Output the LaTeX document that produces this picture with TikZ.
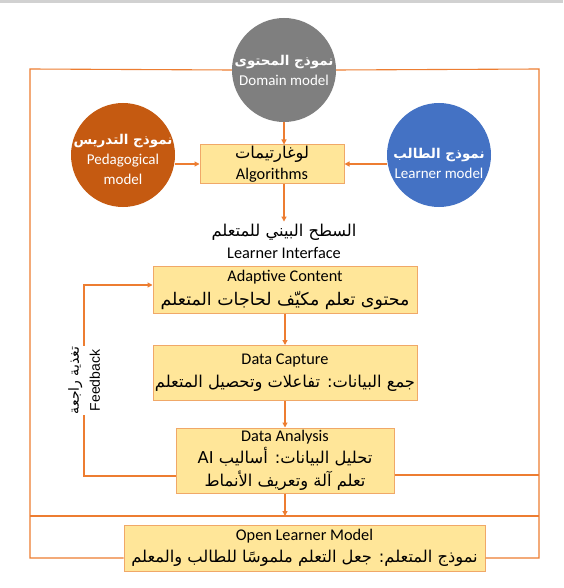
\documentclass[tikz,border=0pt]{standalone}
\usepackage{fontspec}
\setmainfont{Carlito}
\newfontfamily\arabicfont[Script=Arabic]{DejaVu Sans}
\newfontfamily\fbfont{Liberation Sans}
\TeXXeTstate=1
\usetikzlibrary{arrows.meta,positioning,calc}
\definecolor{linkorange}{HTML}{ED7D31}
\definecolor{boxfill}{HTML}{FFE699}
\definecolor{boxedge}{HTML}{F0A868}
\definecolor{domaingray}{HTML}{7F7F7F}
\definecolor{pedagbrown}{HTML}{C55A11}
\definecolor{learnerblue}{HTML}{4472C4}
\newcommand{\artext}[1]{{\arabicfont\beginR #1\endR}}
\newcommand{\capar}[1]{{\fontsize{13.5}{20}\selectfont\bfseries\artext{#1}}}

\begin{document}
\begin{tikzpicture}[x=1pt, y=-1pt,
    model/.style={circle, minimum size=104pt, inner sep=0pt},
    modelcap/.style={text=white, align=center, inner sep=0pt, font=\fontsize{15}{20}\selectfont},
    stage/.style={rectangle, fill=boxfill, draw=boxedge, line width=1pt, inner sep=0pt,
      align=center, font=\fontsize{16.3}{22}\selectfont},
    link/.style={draw=linkorange, line width=1.1pt},
    flow/.style={link, -{Triangle[length=5pt, width=5pt]}},
    fbnote/.style={rotate=90, fill=white, align=center, inner sep=1pt,
      font=\fontsize{14}{21}\selectfont}]
  \useasboundingbox (0,0) rectangle (563,588);
  \fill[white] (0,0) rectangle (563,588);
  \fill[black!18] (0,0) rectangle (563,3);

  % models around the algorithms
  \node[model, fill=domaingray]  (domain)  at (284,70)  {};
  \node[model, fill=pedagbrown]  (pedag)   at (123,155) {};
  \node[model, fill=learnerblue] (learner) at (439,155) {};
  \node[modelcap] (domaincap)  at (284,70)  {\capar{نموذج المحتوى}\\Domain model};
  \node[modelcap] (pedagcap)   at (123,159) {\capar{نموذج التدريس}\\Pedagogical\\model};
  \node[modelcap] (learnercap) at (439,163) {\capar{نموذج الطالب}\\Learner model};
  \node[stage, minimum width=144pt, minimum height=38pt] (algo) at (272,164)
    {\artext{لوغارتيمات}\\[-1pt]Algorithms};
  \node[align=center, inner sep=2pt, font=\fontsize{16.3}{22}\selectfont] (iface) at (284,241)
    {\artext{السطح البيني للمتعلم}\\Learner Interface};

  % learner loop
  \node[stage, minimum width=264pt, minimum height=47pt] (adapt)    at (285,289.5)
    {Adaptive Content\\[2pt]{\fontsize{17.4}{22}\selectfont\artext{محتوى تعلم مكيّف لحاجات المتعلم}}};
  \node[stage, minimum width=264pt, minimum height=55pt] (capture)  at (285,373)
    {Data Capture\\[1pt]\artext{جمع البيانات: تفاعلات وتحصيل المتعلم}};
  \node[stage, minimum width=218pt, minimum height=65pt] (analysis) at (285,460.5)
    {Data Analysis\\\artext{تحليل البيانات: أساليب \beginL AI\endL}\\[1pt]\artext{تعلم آلة وتعريف الأنماط}};
  \node[stage, minimum width=361pt, minimum height=46pt] (olm)      at (304.5,548)
    {Open Learner Model\\\artext{نموذج المتعلم: جعل التعلم ملموسًا للطالب والمعلم}};

  \coordinate (ftl) at (30,69);
  \coordinate (ftr) at (539,69);
  \coordinate (fbl) at (30,558);
  \coordinate (fbr) at (539,558);
  \coordinate (xl)  at (30,516);
  \coordinate (xr)  at (539,516);
  \coordinate (ar)  at (539,475);
  \coordinate (fbt) at (84,285);
  \coordinate (fbb) at (84,476);

  \draw[flow] (domain.south) -- (domain.south |- algo.north);
  \draw[flow] (pedag.east |- algo.west) -- (algo.west);
  \draw[flow] (learner.west |- algo.east) -- (algo.east);
  \draw[flow] (algo.south -| domain.south) -- (iface.north);
  \draw[flow] (adapt.south) -- (capture.north);
  \draw[flow] (capture.south) -- (analysis.north);
  \draw[flow] (analysis.south) -- (analysis.south |- xl);

  % outer frame
  \draw[link] (domain.west) -- (ftl) -- (fbl) -- (fbl -| olm.west);
  \draw[link] (domain.east) -- (ftr) -- (fbr) -- (fbr -| olm.east);
  \draw[link] (xl) -- (xr);
  \draw[link] (analysis.east |- ar) -- (ar);

  % feedback
  \draw[flow] (fbb -| analysis.west) -- (fbb)
    -- node[fbnote] {\artext{تغذية راجعة}\\\fbfont Feedback} (fbt) -- (fbt -| adapt.west);
\end{tikzpicture}
\end{document}
